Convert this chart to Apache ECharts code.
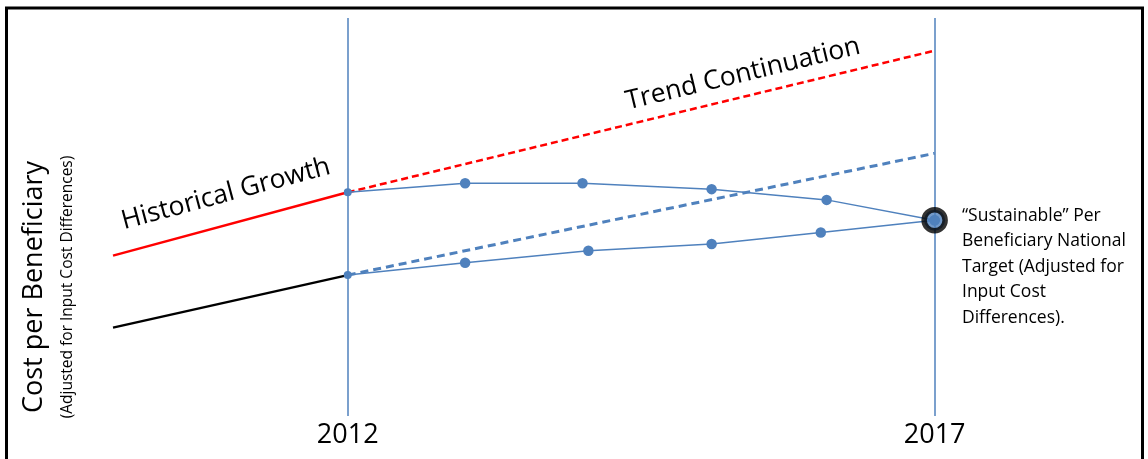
<!DOCTYPE html>
<html>
<head>
<meta charset="UTF-8">
<title>Cost per Beneficiary</title>
<script src="https://cdn.jsdelivr.net/npm/echarts@6/dist/echarts.min.js"></script>
<style>
  html, body { margin: 0; padding: 0; background: #fff; }
  #chart { width: 1148px; height: 459px; }
</style>
</head>
<body>
<div id="chart"></div>
<script>
// years shown on the axis
var yearTicks = [2012, 2017];
// [year, cost index] pairs
var histRed = [[2010, 40.3], [2012, 56.2]];
var histBlack = [[2010, 22.2], [2012, 35.4]];
var trendRed = [[2012, 56.2], [2017, 91.8]];
var trendBlue = [[2012, 35.4], [2017, 66.0]];
var pathDown = [[2012, 56.2], [2013, 58.5], [2014, 58.5], [2015.1, 57.0], [2016.08, 54.3], [2017, 49.2]];
var pathUp = [[2012, 35.4], [2013, 38.5], [2014.05, 41.5], [2015.1, 43.2], [2016.03, 46.1], [2017, 49.2]];
var target = [[2017, 49.2]];

var blue = '#4f81bd';
var font = '"Open Sans", sans-serif';

var chart = echarts.init(document.getElementById('chart'));

function plainLine(data, color, width, type) {
  return {
    type: 'line',
    data: data,
    symbol: 'none',
    silent: true,
    lineStyle: { color: color, width: width, type: type || 'solid' },
    z: 3
  };
}

function pathLine(data) {
  return {
    type: 'line',
    data: data,
    symbol: 'circle',
    symbolSize: function (v, p) { return p.dataIndex === 0 ? 8 : 10.5; },
    itemStyle: { color: blue },
    lineStyle: { color: blue, width: 1.5 },
    silent: true,
    z: 4
  };
}

var option = {
  animation: false,
  backgroundColor: '#fff',
  grid: { left: 113, right: 96, top: 18, bottom: 43 },
  xAxis: {
    type: 'value',
    min: 2010,
    max: 2018,
    axisLine: { show: false },
    axisTick: { show: false },
    splitLine: { show: false },
    axisLabel: {
      customValues: yearTicks,
      formatter: function (v) { return String(v); },
      fontFamily: font,
      fontSize: 27,
      color: '#000',
      margin: 6
    }
  },
  yAxis: {
    type: 'value',
    min: 0,
    max: 100,
    show: false
  },
  series: [
    Object.assign(plainLine(histRed, '#ff0000', 2.5), {
      markLine: {
        silent: true,
        symbol: 'none',
        label: { show: false },
        lineStyle: { color: blue, width: 1.5, type: 'solid' },
        data: yearTicks.map(function (y) { return { xAxis: y }; })
      }
    }),
    plainLine(histBlack, '#000', 2.5),
    plainLine(trendRed, '#ff0000', 2.5, [7, 4]),
    plainLine(trendBlue, blue, 3, [8, 5]),
    pathLine(pathDown),
    pathLine(pathUp),
    {
      type: 'scatter',
      data: target,
      symbolSize: 21,
      itemStyle: { color: blue, borderColor: '#000', borderWidth: 5.5 },
      silent: true,
      z: 5
    }
  ],
  graphic: [
    {
      type: 'rect',
      shape: { x: 6.5, y: 8, width: 1136, height: 470 },
      style: { fill: 'none', stroke: '#000', lineWidth: 3 },
      silent: true
    },
    {
      type: 'text', x: 34, y: 287, rotation: Math.PI / 2,
      style: { text: 'Cost per Beneficiary', font: '27px ' + font, fill: '#000', align: 'center', verticalAlign: 'middle' }
    },
    {
      type: 'text', x: 68, y: 287, rotation: Math.PI / 2,
      style: { text: '(Adjusted for Input Cost Differences)', font: '15.5px ' + font, fill: '#000', align: 'center', verticalAlign: 'middle' }
    },
    {
      type: 'text', x: 226, y: 194, rotation: 0.262,
      style: { text: 'Historical Growth', font: '26.5px ' + font, fill: '#000', align: 'center', verticalAlign: 'middle' }
    },
    {
      type: 'text', x: 743, y: 74, rotation: 0.237,
      style: { text: 'Trend Continuation', font: '26.5px ' + font, fill: '#000', align: 'center', verticalAlign: 'middle' }
    },
    {
      type: 'text', x: 962, y: 203,
      style: {
        text: '\u201cSustainable\u201d Per\nBeneficiary National\nTarget (Adjusted for\nInput Cost\nDifferences).',
        font: '17.5px ' + font, lineHeight: 25.5, fill: '#000', align: 'left', verticalAlign: 'top'
      }
    }
  ]
};

chart.setOption(option);
</script>
</body>
</html>
